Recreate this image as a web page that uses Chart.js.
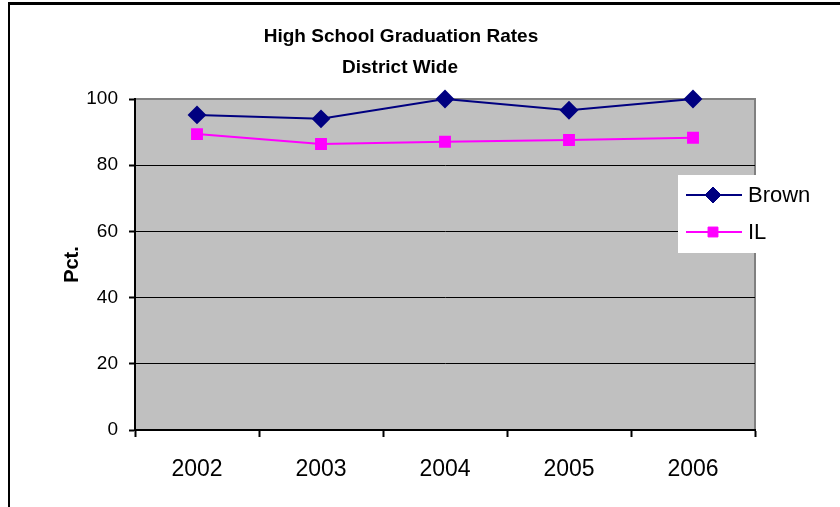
<!DOCTYPE html>
<html>
<head>
<meta charset="utf-8">
<script src="https://cdn.jsdelivr.net/npm/chart.js@4/dist/chart.umd.min.js"></script>
<style>
  html, body { margin: 0; padding: 0; background: #fff; }
  #wrap { width: 840px; height: 507px; }
</style>
</head>
<body>
<div id="wrap"><canvas id="c" width="840" height="507"></canvas></div>
<script>
// Graduation rates by school year
const years = ['2002', '2003', '2004', '2005', '2006'];
const brownRates = [95.2, 94.0, 100, 96.6, 100];
const illinoisRates = [89.4, 86.4, 87.1, 87.6, 88.3];
const seriesNames = ['Brown', 'IL'];
const titleLines = ['High School Graduation Rates', 'District Wide'];
const yTicks = [0, 20, 40, 60, 80, 100];

const FONT = "'Liberation Sans', Arial, sans-serif";

// Grey plot background, grey top/right frame and the outer frame lines
const frame = {
  id: 'frame',
  beforeDraw(chart) {
    const { ctx, chartArea: a } = chart;
    ctx.save();
    ctx.fillStyle = '#c0c0c0';
    ctx.fillRect(a.left, a.top, a.right - a.left, a.bottom - a.top);
    ctx.strokeStyle = '#808080';
    ctx.lineWidth = 2;
    ctx.beginPath();
    ctx.moveTo(a.left, a.top);
    ctx.lineTo(a.right, a.top);
    ctx.lineTo(a.right, a.bottom);
    ctx.stroke();
    ctx.fillStyle = '#000';
    ctx.fillRect(8, 2, 832, 3);
    ctx.fillRect(8, 2, 2, 505);
    ctx.restore();
  }
};

// Two-line heading
const heading = {
  id: 'heading',
  afterDraw(chart) {
    const { ctx } = chart;
    ctx.save();
    ctx.fillStyle = '#000';
    ctx.font = 'bold 19px ' + FONT;
    ctx.textAlign = 'center';
    ctx.textBaseline = 'middle';
    ctx.fillText(titleLines[0], 401, 37);
    ctx.fillText(titleLines[1], 400, 68);
    ctx.restore();
  }
};

// Legend box overlapping the right edge of the plot
const sideLegend = {
  id: 'sideLegend',
  afterDatasetsDraw(chart) {
    const { ctx } = chart;
    const x0 = 678, y0 = 175;
    ctx.save();
    ctx.fillStyle = '#fff';
    ctx.fillRect(x0, y0, 150, 78);
    chart.data.datasets.forEach((ds, i) => {
      const y = 195 + i * 37;
      ctx.strokeStyle = ds.borderColor;
      ctx.lineWidth = 2;
      ctx.beginPath();
      ctx.moveTo(686, y);
      ctx.lineTo(742, y);
      ctx.stroke();
      ctx.fillStyle = ds.pointBackgroundColor;
      ctx.strokeStyle = ds.pointBorderColor;
      ctx.lineWidth = 1;
      Chart.helpers.drawPoint(ctx, {
        pointStyle: ds.pointStyle,
        radius: ds.pointRadius,
        rotation: 0,
        borderWidth: 1
      }, 713, y);
      ctx.fillStyle = '#000';
      ctx.font = '22px ' + FONT;
      ctx.textAlign = 'left';
      ctx.textBaseline = 'middle';
      ctx.fillText(ds.label, 748, y + 1);
    });
    ctx.restore();
  }
};

new Chart(document.getElementById('c'), {
  type: 'line',
  data: {
    labels: years,
    datasets: [
      {
        label: seriesNames[0],
        data: brownRates,
        borderColor: '#000080',
        backgroundColor: '#000080',
        pointBackgroundColor: '#000080',
        pointBorderColor: '#000080',
        pointStyle: 'rectRot',
        pointRadius: 8,
        borderWidth: 2,
        tension: 0,
        clip: false
      },
      {
        label: seriesNames[1],
        data: illinoisRates,
        borderColor: '#ff00ff',
        backgroundColor: '#ff00ff',
        pointBackgroundColor: '#ff00ff',
        pointBorderColor: '#ff00ff',
        pointStyle: 'rect',
        pointRadius: 7,
        borderWidth: 2,
        tension: 0,
        clip: false
      }
    ]
  },
  options: {
    responsive: false,
    animation: false,
    events: [],
    layout: { padding: { left: 8, top: 99, right: 85, bottom: 0 } },
    plugins: {
      legend: { display: false },
      title: { display: false },
      tooltip: { enabled: false }
    },
    scales: {
      x: {
        offset: true,
        grid: {
          offset: true,
          drawOnChartArea: false,
          drawTicks: true,
          tickLength: 7,
          tickColor: '#000',
          tickWidth: 2
        },
        border: { color: '#000', width: 2 },
        ticks: {
          color: '#000',
          font: { family: FONT, size: 23 },
          padding: 19,
          maxRotation: 0
        },
        afterFit(s) { s.height = 77; }
      },
      y: {
        min: 0,
        max: 100,
        afterBuildTicks(s) { s.ticks = yTicks.map(v => ({ value: v })); },
        grid: {
          color: c => (c.tick && c.tick.value === 100) ? 'rgba(0,0,0,0)' : '#000',
          lineWidth: 1,
          drawTicks: true,
          tickLength: 6,
          tickColor: '#000',
          tickWidth: 2
        },
        border: { color: '#000', width: 2 },
        ticks: {
          color: '#000',
          font: { family: FONT, size: 19 },
          padding: 11
        },
        title: {
          display: true,
          text: 'Pct.',
          color: '#000',
          font: { family: FONT, size: 20, weight: 'bold' },
          padding: { top: 52, bottom: 0 }
        },
        afterFit(s) { s.width = 127; }
      }
    }
  },
  plugins: [frame, heading, sideLegend]
});
</script>
</body>
</html>
